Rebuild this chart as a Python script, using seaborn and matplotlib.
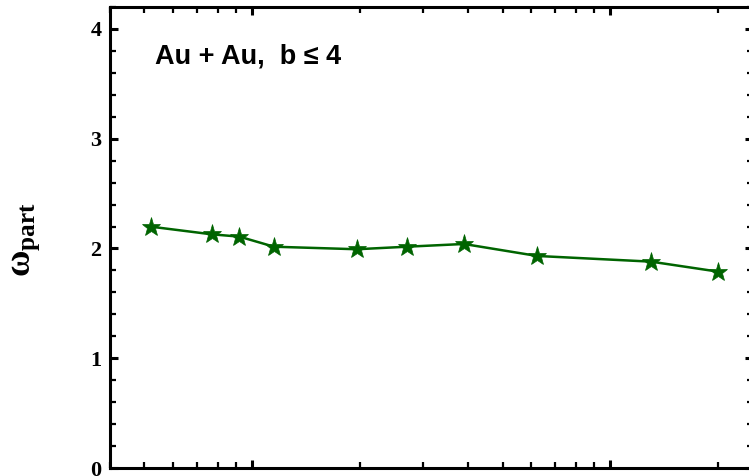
import matplotlib
matplotlib.use("Agg")
import matplotlib.pyplot as plt
from matplotlib.ticker import LogLocator, NullFormatter, MultipleLocator
import seaborn as sns
import pandas as pd

# Data
energy = [5.2, 7.7, 9.2, 11.5, 19.6, 27, 39, 62.4, 130, 200]
omega_part = [2.199, 2.129, 2.108, 2.016, 1.993, 2.016, 2.041, 1.932, 1.880, 1.789]
y_ticks = [0, 1, 2, 3, 4]
y_tick_labels = ["0", "1", "2", "3", "4"]
annotation = "Au + Au,  b \u2264 4"

df = pd.DataFrame({"energy": energy, "omega": omega_part})

sns.set_theme(style="ticks")
plt.rcParams["font.family"] = ["Liberation Serif", "DejaVu Serif"]
plt.rcParams["text.color"] = "black"
plt.rcParams["axes.labelcolor"] = "black"
plt.rcParams["xtick.color"] = "black"
plt.rcParams["ytick.color"] = "black"
plt.rcParams["mathtext.fontset"] = "custom"
plt.rcParams["mathtext.rm"] = "Liberation Serif"
plt.rcParams["mathtext.bf"] = "Liberation Serif:bold"
plt.rcParams["mathtext.it"] = "Liberation Serif:italic"

fig = plt.figure(figsize=(7.49, 4.76), dpi=100)
ax = fig.add_axes([109.8 / 749, 1 - 468 / 476, 643 / 749, (468 - 7) / 476])

green = "#006400"
sns.lineplot(data=df, x="energy", y="omega", ax=ax, color=green, linewidth=1.8,
             marker="*", markersize=14, markeredgecolor=green, markerfacecolor=green,
             markeredgewidth=0.5)

ax.set_xscale("log")
ax.set_xlim(4, 250)
ax.set_ylim(0, 4.2)

ax.xaxis.set_major_locator(LogLocator(base=10, numticks=10))
ax.xaxis.set_minor_locator(LogLocator(base=10, subs=[2, 3, 4, 5, 6, 7, 8, 9], numticks=20))
ax.xaxis.set_major_formatter(NullFormatter())
ax.xaxis.set_minor_formatter(NullFormatter())

ax.set_yticks(y_ticks)
ax.set_yticklabels(y_tick_labels)
ax.yaxis.set_minor_locator(MultipleLocator(0.2))

for s in ax.spines.values():
    s.set_linewidth(2.2)
    s.set_color("black")

ax.tick_params(which="both", direction="in", top=True, right=True, colors="black")
ax.tick_params(which="major", length=6, width=2.2)
ax.tick_params(which="minor", length=4, width=1.6)
ax.tick_params(axis="y", which="major", labelsize=16, pad=6)
for lab in ax.get_yticklabels():
    lab.set_fontweight("bold")
    lab.set_color("black")

ax.set_xlabel("")
ax.set_ylabel("")

fig.text(25 / 749, 1 - 240 / 476, r"$\mathbf{\omega}_{\mathbf{part}}$", rotation=90,
         fontsize=26, ha="center", va="center", color="black")

ax.text(0.0703, 0.8785, annotation, transform=ax.transAxes, fontsize=19.5,
        fontweight="bold", family=["Liberation Sans", "DejaVu Sans"],
        ha="left", va="baseline", color="black")

fig.savefig("out.png", dpi=100)
